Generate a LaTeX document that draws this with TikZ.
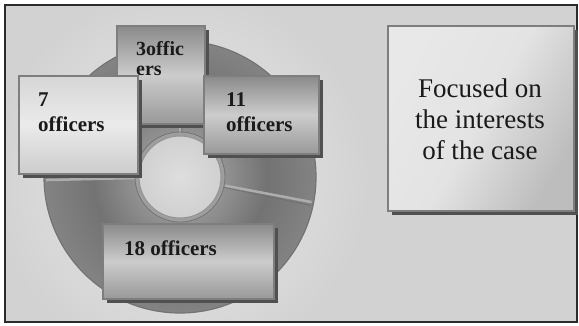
\documentclass[tikz,border=0pt]{standalone}
\usepackage{fontspec}
\setmainfont{Liberation Serif}
\usetikzlibrary{shadows,calc}
\definecolor{bg}{HTML}{D2D2D2}
\definecolor{glow}{HTML}{EAEAEA}
\definecolor{framec}{HTML}{2B2B2B}
\definecolor{boxedge}{HTML}{7E7E7E}
\definecolor{shad}{HTML}{505050}
\definecolor{txt}{HTML}{1A1A1A}
\definecolor{sepl}{HTML}{ADADAD}
\definecolor{sepd}{HTML}{707070}
\pgfdeclareradialshading{ringshade}{\pgfpoint{0bp}{0bp}}{%
 color(0bp)=(black!30); color(16bp)=(black!55); color(30bp)=(black!45);
 color(42bp)=(black!40); color(45.5bp)=(black!28); color(48.5bp)=(black!36); color(50bp)=(black!58)}
\pgfdeclareradialshading{holeshade}{\pgfpoint{0bp}{0bp}}{%
 color(0bp)=(black!13); color(28bp)=(black!19); color(44bp)=(black!28); color(50bp)=(black!38)}
\tikzset{
  obox/.style={draw=boxedge, line width=1.6pt, inner sep=0pt, anchor=north west,
    drop shadow={shadow xshift=4pt, shadow yshift=-4pt, fill=shad, opacity=1}},
  darkbox/.style={obox, top color=black!46, bottom color=black!40, middle color=black!20},
  lightbox/.style={obox, top color=black!16, bottom color=black!20, middle color=black!8},
  lbl/.style={inner sep=0pt, anchor=base west, text=txt, font=\bfseries\fontsize{21}{25}\selectfont},
  ftext/.style={inner sep=0pt, anchor=base, text=txt, font=\fontsize{27}{31}\selectfont},
  sepline/.style={line width=2.5pt, sepl},
  sepdark/.style={line width=0.8pt, sepd}
}
\begin{document}
\begin{tikzpicture}[x=1pt,y=-1pt]
\useasboundingbox (0,0) rectangle (579,325);
\fill[white] (0,0) rectangle (579,325);
\begin{scope}
  \clip (5,5) rectangle (577,322);
  \fill[bg] (5,5) rectangle (577,322);
  \shade[inner color=glow, outer color=bg] (180,177) circle (190);
\end{scope}
\draw[framec, line width=2pt] (5,5) rectangle (577,322);

% donut
\coordinate (dc) at (180,177);
\shade[shading=ringshade] (dc) circle (136);
\draw[black!55, line width=1.2pt] (dc) circle (136);
\foreach \a in {178.7, 10.8, -90} {
  \draw[sepdark] ($(dc)+(\a+2.5:44)$) -- ($(dc)+(\a+1.5:134)$);
  \draw[sepline] ($(dc)+(\a:44)$) -- ($(dc)+(\a:134)$);
}
\fill[black!38] (dc) circle (45);
\draw[black!55, line width=0.8pt] (dc) circle (45);
\shade[shading=holeshade] (dc) circle (41);
\draw[black!42, line width=1pt] (dc) circle (41);

% boxes
\node[darkbox, minimum width=88, minimum height=98] (b3) at (116,25) {};
\node[lbl] (t3) at (136,55) {\parbox[t]{60pt}{\fontsize{20}{20}\selectfont 3offic\\ers}};
\node[lightbox, minimum width=119, minimum height=98] (b7) at (18,75) {};
\node[lbl] (t7) at (38,106) {\parbox[t]{90pt}{7\\officers}};
\node[darkbox, minimum width=115, minimum height=78] (b11) at (203,75) {};
\node[lbl] (t11) at (226,106) {\parbox[t]{90pt}{11\\officers}};
\node[darkbox, minimum width=171, minimum height=75] (b18) at (102,223) {};
\node[lbl] (t18) at (124,255) {18 officers};

\node[obox, minimum width=186, minimum height=185,
  left color=black!9, right color=black!26, middle color=black!11, shading angle=60] (bf) at (387,25) {};
\node[ftext] (tf) at (480,97) {\parbox[t]{180pt}{\centering Focused on\\the interests\\of the case}};
\end{tikzpicture}
\end{document}
